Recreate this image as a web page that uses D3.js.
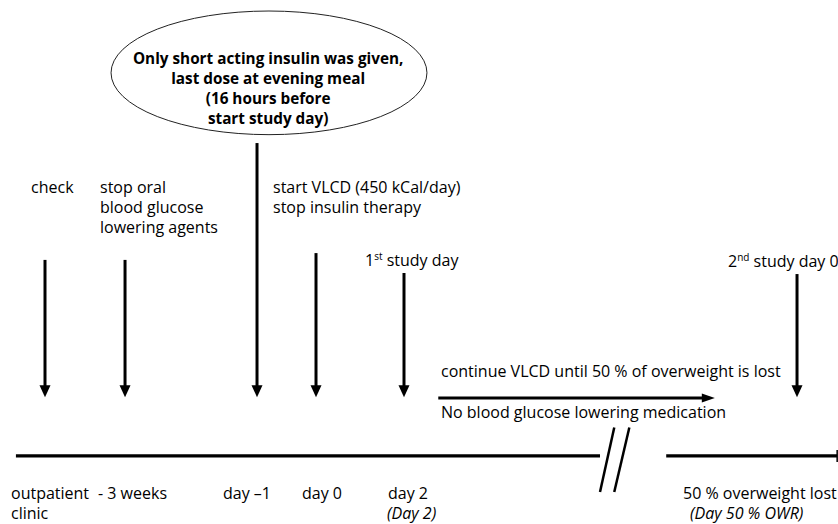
<!DOCTYPE html>
<head>
    <meta charset="utf-8">
    <title>Study timeline</title>
    <script src="https://d3js.org/d3.v7.min.js"></script>
    <style>
        body { margin: 0; background: #fff; }
        svg { display: block; font-family: "Open Sans", sans-serif; }
    </style>
</head>

<body>
    <div class="chart"></div>
    <script type="text/javascript">

        // timeline events (x in timeline units 0-100, arrow top in height units 0-100)
        const eventNames = ['check', 'stop oral', 'day -1', 'day 0', 'day 2', '2nd study day']
        const eventX = [5.37, 14.92, 30.67, 37.71, 48.21, 95.11]
        const arrowTop = [49.6, 49.6, 27.3, 48.3, 52.1, 52.3]
        const arrowTip = 75.8

        const topLabels = [
            ['check'],
            ['stop oral', 'blood glucose', 'lowering agents'],
            ['start VLCD (450 kCal/day)', 'stop insulin therapy']
        ]

        const bottomLabels = ['outpatient', '- 3 weeks', 'day \u20131', 'day 0', 'day 2', '50 % overweight lost']
        const bottomSub = ['clinic', '', '', '', '(Day 2)', '(Day 50 % OWR)']

        const bubbleText = ['Only short acting insulin was given,', 'last dose at evening meal',
            '(16 hours before', 'start study day)']

        const phaseText = ['continue VLCD until 50 % of overweight is lost', 'No blood glucose lowering medication']

        const w = 838
        const h = 524
        const fs = '16px'

        const xScale = d3.scaleLinear().domain([0, 100]).range([0, w])
        const yScale = d3.scaleLinear().domain([0, 100]).range([0, h])

        const svg = d3.select('.chart')
            .append('svg')
            .attr('width', w)
            .attr('height', h)

        // main time axis, broken in two parts
        const axisY = yScale(87.0)
        const axisParts = [[1.9, 71.6], [79.5, 99.9]]
        svg.selectAll('.axis')
            .data(axisParts)
            .enter()
            .append('line')
            .attr('class', 'axis')
            .attr('x1', d => xScale(d[0]))
            .attr('x2', d => xScale(d[1]))
            .attr('y1', axisY)
            .attr('y2', axisY)
            .attr('stroke', '#000')
            .attr('stroke-width', 3.2)

        svg.append('line')
            .attr('x1', xScale(99.9)).attr('x2', xScale(99.9))
            .attr('y1', axisY - 6).attr('y2', axisY + 6)
            .attr('stroke', '#000').attr('stroke-width', 1.5)

        // break marks
        const breaks = [[73.3, 71.6], [75.1, 73.3]]
        svg.selectAll('.brk')
            .data(breaks)
            .enter()
            .append('line')
            .attr('class', 'brk')
            .attr('x1', d => xScale(d[0]))
            .attr('x2', d => xScale(d[1]))
            .attr('y1', yScale(81.6))
            .attr('y2', yScale(93.9))
            .attr('stroke', '#000')
            .attr('stroke-width', 2.5)

        // vertical event arrows
        const tipY = yScale(arrowTip)
        const head = 12
        const g = svg.selectAll('.event')
            .data(eventNames)
            .enter()
            .append('g')
            .attr('class', 'event')

        g.append('line')
            .attr('x1', (d, i) => xScale(eventX[i]))
            .attr('x2', (d, i) => xScale(eventX[i]))
            .attr('y1', (d, i) => yScale(arrowTop[i]))
            .attr('y2', tipY - head + 1)
            .attr('stroke', '#000')
            .attr('stroke-width', 3)

        g.append('path')
            .attr('d', (d, i) => {
                const cx = xScale(eventX[i])
                return 'M' + (cx - 5.5) + ',' + (tipY - head) + 'L' + (cx + 5.5) + ',' + (tipY - head) +
                    'L' + cx + ',' + tipY + 'Z'
            })
            .attr('fill', '#000')

        // bubble
        const bubble = { cx: 32.1, cy: 13.9, rx: 18.85, ry: 11.8 }
        svg.append('ellipse')
            .attr('cx', xScale(bubble.cx))
            .attr('cy', yScale(bubble.cy))
            .attr('rx', xScale(bubble.rx))
            .attr('ry', yScale(bubble.ry))
            .attr('fill', 'none')
            .attr('stroke', '#222')
            .attr('stroke-width', 1)

        svg.append('text')
            .attr('text-anchor', 'middle')
            .attr('font-weight', 'bold')
            .attr('font-size', '15.3px')
            .selectAll('tspan')
            .data(bubbleText)
            .enter()
            .append('tspan')
            .attr('x', xScale(32.0))
            .attr('y', (d, i) => 64 + i * 20)
            .text(d => d)

        // labels above arrows
        const topX = [31, 100, 273]
        topLabels.forEach((lines, k) => {
            svg.append('text')
                .attr('font-size', fs)
                .selectAll('tspan')
                .data(lines)
                .enter()
                .append('tspan')
                .attr('x', topX[k])
                .attr('y', (d, i) => 193 + i * 20)
                .text(d => d)
        })

        // study day labels with superscripts
        const studyDays = [['1', 'st', ' study day'], ['2', 'nd', ' study day 0']]
        const studyPos = [[365, 266], [728, 267]]
        studyDays.forEach((s, k) => {
            const t = svg.append('text')
                .attr('x', studyPos[k][0])
                .attr('y', studyPos[k][1])
                .attr('font-size', fs)
            t.append('tspan').text(s[0])
            t.append('tspan').attr('font-size', '10px').attr('dy', -6).text(s[1])
            t.append('tspan').attr('dy', 6).text(s[2])
        })

        // VLCD phase arrow
        const phaseY = yScale(75.95)
        svg.append('line')
            .attr('x1', xScale(52.3)).attr('x2', xScale(84.0))
            .attr('y1', phaseY).attr('y2', phaseY)
            .attr('stroke', '#000').attr('stroke-width', 3.2)
        svg.append('path')
            .attr('d', 'M' + xScale(85.3) + ',' + phaseY + 'L' + (xScale(85.3) - 13) + ',' + (phaseY - 4.5) +
                'L' + (xScale(85.3) - 13) + ',' + (phaseY + 4.5) + 'Z')
            .attr('fill', '#000')

        svg.selectAll('.phase')
            .data(phaseText)
            .enter()
            .append('text')
            .attr('class', 'phase')
            .attr('x', 441)
            .attr('y', (d, i) => i ? 418 : 377)
            .attr('font-size', fs)
            .text(d => d)

        // labels below the axis, main line + optional second line
        const bottomX = [11, 98, 223, 302, 388, 683]
        const subX = [11, 98, 223, 302, 387, 690]
        const blab = svg.selectAll('.blab')
            .data(bottomLabels)
            .enter()
            .append('text')
            .attr('class', 'blab')
            .attr('font-size', fs)

        blab.append('tspan')
            .attr('x', (d, i) => bottomX[i])
            .attr('y', 499)
            .text(d => d)

        blab.append('tspan')
            .attr('x', (d, i) => subX[i])
            .attr('y', 519)
            .attr('font-style', (d, i) => i ? 'italic' : 'normal')
            .text((d, i) => bottomSub[i])

    </script>
</body>
